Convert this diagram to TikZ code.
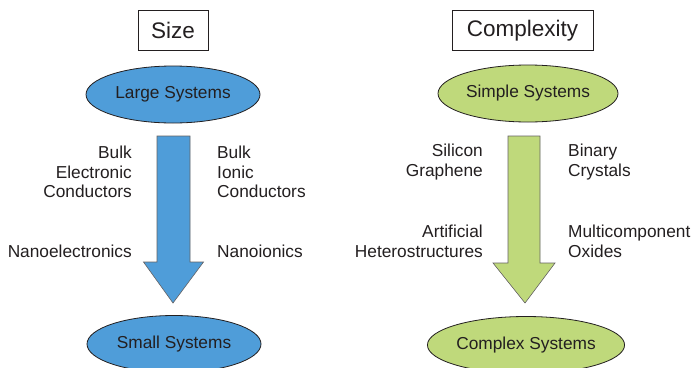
\documentclass[tikz,border=0pt]{standalone}
\usepackage{fontspec}
\setmainfont{Liberation Sans}
\usetikzlibrary{shapes.geometric}
\definecolor{sysblue}{HTML}{4F9DD9}
\definecolor{sysgreen}{HTML}{BFD97B}
\definecolor{ink}{HTML}{231F20}
\tikzset{
  titlebox/.style={draw=ink, line width=1pt, minimum height=40pt, inner sep=0pt, text=ink, font=\fontsize{22.5}{26}\selectfont},
  sysnode/.style={ellipse, draw=ink, line width=0.8pt, inner sep=0pt, minimum height=57pt, text=ink, font=\fontsize{17.3}{19.7}\selectfont},
  lbl/.style={inner sep=0pt, text=ink, font=\fontsize{17.3}{19.7}\selectfont},
  lblL/.style={lbl, anchor=east, align=right},
  lblR/.style={lbl, anchor=west, align=left},
  bigarrow/.style={draw=ink!70, line width=0.6pt, line join=miter}
}
\begin{document}
\begin{tikzpicture}[x=1pt, y=-1pt]
\clip (0,0) rectangle (692,367);
\fill[white] (0,0) rectangle (692,367);
% Left panel
\node[titlebox, minimum width=70pt] (size) at (173,30) {Size};
\node[sysnode, fill=sysblue, minimum width=174pt] (large) at (173,94.5) {Large Systems};
\node[sysnode, fill=sysblue, minimum width=174pt] (small) at (174,344) {Small Systems};
\coordinate (lt) at (173.5,136);
\coordinate (lw) at (173.5,262);
\coordinate (lp) at (173,303);
\draw[bigarrow, fill=sysblue] ([xshift=-16.5pt]lt) -- ([xshift=16.5pt]lt) -- ([xshift=16.5pt]lw) -- ([xshift=30pt]lw) -- (lp) -- ([xshift=-30pt]lw) -- ([xshift=-16.5pt]lw) -- cycle;
\node[lblL] (bec) at (132,172) {Bulk\\Electronic\\Conductors};
\node[lblL] (nel) at (132,251) {Nanoelectronics};
\node[lblR] (bic) at (217,172) {Bulk\\Ionic\\Conductors};
\node[lblR] (nio) at (217,251) {Nanoionics};
% Right panel
\node[titlebox, minimum width=141pt] (cplx) at (522.5,30.5) {Complexity};
\node[sysnode, fill=sysgreen, minimum width=180pt] (simple) at (528,93.5) {Simple Systems};
\node[sysnode, fill=sysgreen, minimum width=176pt] (complex) at (526,345) {Complex Systems};
\coordinate (rt) at (524,136);
\coordinate (rw) at (524,263);
\coordinate (rp) at (525,303);
\draw[bigarrow, fill=sysgreen] ([xshift=-16pt]rt) -- ([xshift=16pt]rt) -- ([xshift=16pt]rw) -- ([xshift=31pt]rw) -- (rp) -- ([xshift=-31pt]rw) -- ([xshift=-16pt]rw) -- cycle;
\node[lblL] (sig) at (483,162) {Silicon\\Graphene};
\node[lblL] (ahs) at (483,241.5) {Artificial\\Heterostructures};
\node[lblR] (bcr) at (568,162) {Binary\\Crystals};
\node[lblR] (mco) at (568,241.5) {Multicomponent\\Oxides};
\end{tikzpicture}
\end{document}
